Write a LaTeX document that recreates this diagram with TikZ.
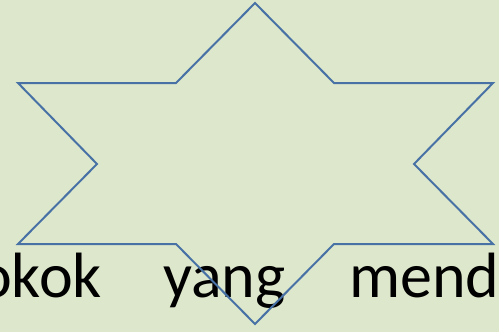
\documentclass[tikz,border=0pt]{standalone}
\usepackage{fontspec}
\setmainfont{Carlito}
\definecolor{bgc}{RGB}{221,231,203}
\definecolor{starc}{RGB}{72,114,166}
\tikzset{word/.style={font=\fontsize{64}{70}\selectfont, text=black, inner sep=0pt}}
\begin{document}
\begin{tikzpicture}[x=1pt,y=-1pt]
\useasboundingbox (0,0) rectangle (499,332);
\fill[bgc] (0,0) rectangle (499,332);
\clip (0,0) rectangle (499,332);
\node[word, anchor=base east] (w1) at (102,297) {okok};
\node[word, anchor=base west] (w2) at (163,297) {yang};
\node[word, anchor=base west] (w3) at (349,297) {mend};
\draw[starc, line width=2pt, line join=miter]
  (255,3) -- (334,83) -- (493,83) -- (414,164) -- (493,244) -- (334,244)
  -- (255,324) -- (176,244) -- (18,244) -- (97,164) -- (18,83) -- (176,83) -- cycle;
\end{tikzpicture}
\end{document}
